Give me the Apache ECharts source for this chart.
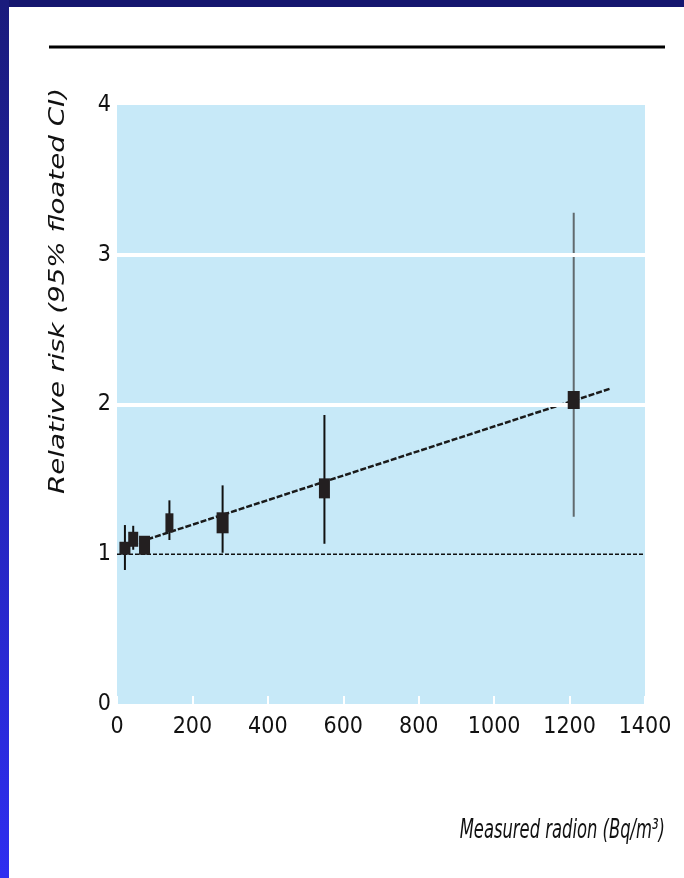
<!DOCTYPE html>
<html>
<head>
<meta charset="utf-8">
<script src="https://cdn.jsdelivr.net/npm/echarts@6/dist/echarts.min.js"></script>
<style>
html,body{margin:0;padding:0;background:#fff;}
#chart{width:684px;height:878px;}
</style>
</head>
<body>
<div id="chart"></div>
<script>
// ---- data ----
const radon  = [21, 43, 73, 139, 280, 550, 1211];
const rr     = [1.04, 1.10, 1.06, 1.21, 1.21, 1.44, 2.03];
const ciLow  = [0.895, 1.03, 1.01, 1.095, 1.01, 1.07, 1.25];
const ciHigh = [1.195, 1.19, 1.11, 1.36, 1.46, 1.93, 3.28];
const fitX   = [20, 1307];
const fitY   = [1.05, 2.105];
const xTicks = [0, 200, 400, 600, 800, 1000, 1200, 1400];
const yTicks = [0, 1, 2, 3, 4];
const yTitle = 'Relative risk (95% floated CI)';
const xTitle = 'Measured radion (Bq/m³)';

// ---- style ----
const markerSizes = [[11,13],[10,15],[11,19],[8,19],[12,21],[11,20],[12,18]];
const barColors = ['#111','#111','#111','#111','#111','#111','#616a6e'];
const narrow = "'Liberation Sans Narrow','DejaVu Sans Condensed',sans-serif";

const chart = echarts.init(document.getElementById('chart'), null, {renderer:'canvas'});

const option = {
  backgroundColor: '#ffffff',
  animation: false,
  grid: {left:117, right:39, top:105, bottom:174, show:true, backgroundColor:'#c7e9f8', borderWidth:0},
  xAxis: {
    type:'value', min:xTicks[0], max:xTicks[xTicks.length-1], interval:200,
    axisLine:{show:false},
    axisTick:{show:true, inside:true, length:8, lineStyle:{color:'#ffffff', width:2}},
    splitLine:{show:false},
    axisLabel:{color:'#111', fontFamily:narrow, fontSize:23, margin:12, formatter:function(v){return String(v);}}
  },
  yAxis: {
    type:'value', min:yTicks[0], max:yTicks[yTicks.length-1], interval:1,
    axisLine:{show:false}, axisTick:{show:false}, splitLine:{show:false},
    axisLabel:{color:'#111', fontFamily:narrow, fontSize:23, margin:6, formatter:function(v){return String(v);}}
  },
  series: [
    {
      type:'line', data:[[xTicks[0],1],[xTicks[xTicks.length-1],1]], symbol:'none', silent:true, z:2,
      lineStyle:{color:'#111', width:1.5, type:[4,2]},
      markLine:{silent:true, symbol:'none', label:{show:false},
        lineStyle:{color:'#ffffff', width:4, type:'solid'},
        data:[{yAxis:2},{yAxis:3}]}
    },
    {
      type:'line', data:fitX.map((x,i)=>[x,fitY[i]]), symbol:'none', silent:true, z:3,
      lineStyle:{color:'#1a1a1a', width:2.5, type:[6,2]}
    },
    {
      type:'custom', z:4,
      data: radon.map((x,i)=>[x, ciLow[i], ciHigh[i]]),
      renderItem:function(params, api){
        const x = api.value(0);
        const p1 = api.coord([x, api.value(1)]);
        const p2 = api.coord([x, api.value(2)]);
        return {type:'line', shape:{x1:p1[0], y1:p1[1], x2:p2[0], y2:p2[1]},
          style:{stroke:barColors[params.dataIndex], lineWidth:2}};
      }
    },
    {
      type:'scatter', z:5, symbol:'rect',
      data: radon.map((x,i)=>({value:[x, rr[i]], symbolSize:markerSizes[i]})),
      itemStyle:{color:'#231f20', opacity:1}
    }
  ],
  graphic: [
    {type:'rect', shape:{x:0,y:0,width:684,height:7}, style:{fill:'#15166f'}, silent:true},
    {type:'rect', shape:{x:0,y:0,width:9,height:878}, silent:true,
      style:{fill:new echarts.graphic.LinearGradient(0,0,0,1,[{offset:0,color:'#1a1b7c'},{offset:1,color:'#2e2ef0'}])}},
    {type:'rect', shape:{x:49,y:45.5,width:616,height:3}, style:{fill:'#000'}, silent:true},
    {type:'text', x:58, y:291, rotation:Math.PI/2, scaleX:1.26, silent:true,
      style:{text:yTitle, fill:'#111', font:"italic 22px 'DejaVu Sans', sans-serif", textAlign:'center', textVerticalAlign:'middle'}},
    {type:'text', x:665, y:831, scaleX:0.7, silent:true,
      style:{text:xTitle, fill:'#111', font:"italic 26px 'Liberation Sans Narrow','DejaVu Sans Condensed',sans-serif", textAlign:'right', textVerticalAlign:'middle'}}
  ]
};
chart.setOption(option);
</script>
</body>
</html>
